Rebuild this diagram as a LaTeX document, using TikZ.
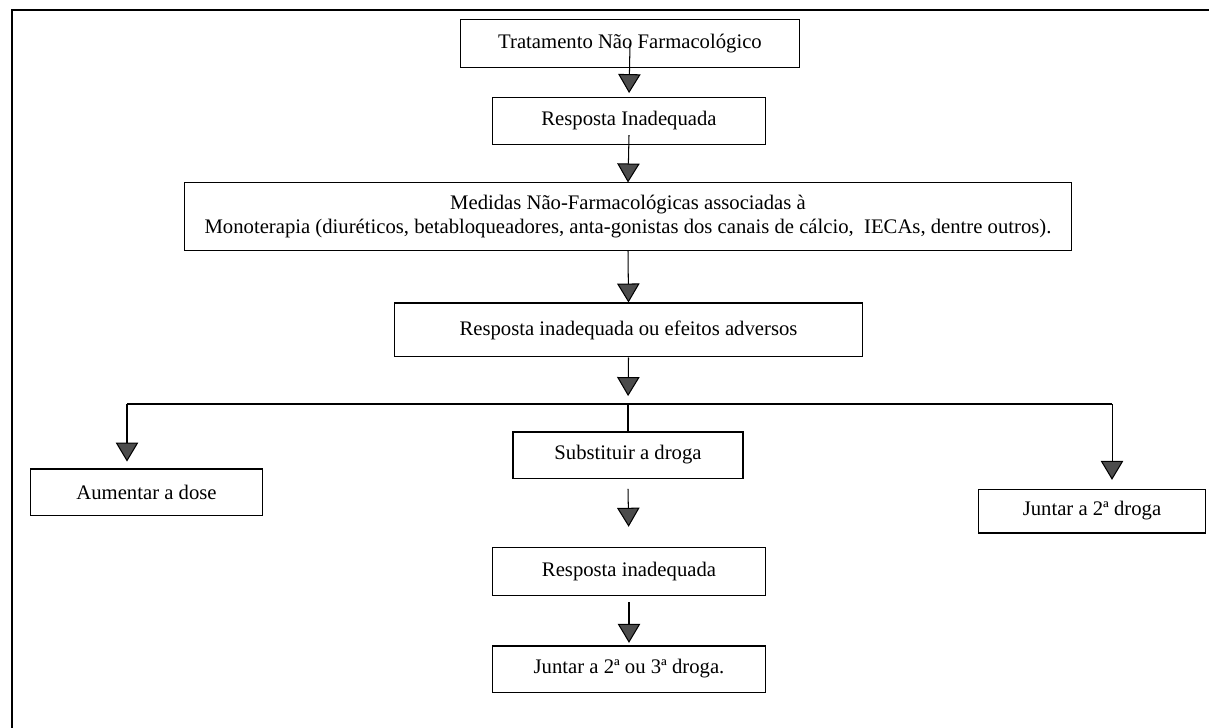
\documentclass[tikz,border=0pt]{standalone}
\usepackage{fontspec}
\setmainfont{Liberation Serif}
\usetikzlibrary{arrows.meta,positioning}

\begin{document}
\begin{tikzpicture}[
  x=0.58pt, y=-0.58pt,
  box/.style={draw, line width=0.6pt, align=center, inner sep=0pt, font=\fontsize{12}{13.8}\selectfont},
  arr/.style={-{Triangle[width=13pt,length=11pt,fill=black!70]}, line width=0.6pt},
  ln/.style={line width=0.6pt},
]
\useasboundingbox (0,0) rectangle (1209,728);
% frame (top and left only)
\draw[ln] (12,728) -- (12,10) -- (1209,10);

\node[box, minimum width=197pt, minimum height=27.3pt] (trat) at (630,43.5) {Tratamento Não Farmacológico};
\node[box, minimum width=157.8pt, minimum height=27.8pt] (resp1) at (629,121) {Resposta Inadequada};
\node[box, minimum width=514pt, minimum height=38.9pt] (med) at (628,216.5)
  {Medidas Não-Farmacológicas associadas à\\Monoterapia (diuréticos, betabloqueadores, anta-gonistas dos canais de cálcio, \ IECAs, dentre outros).};
\node[box, minimum width=271pt, minimum height=31.3pt] (resp2) at (628.5,330) {Resposta inadequada ou efeitos adversos};
\node[box, minimum width=135pt, minimum height=26.7pt] (aum) at (146.5,492) {Aumentar a dose};
\node[box, minimum width=133.4pt, minimum height=26.7pt] (subs) at (628,455) {Substituir a droga};
\node[box, minimum width=132pt, minimum height=25.5pt] (jun1) at (1092,511) {Juntar a 2ª droga};
\node[box, minimum width=157.8pt, minimum height=27.3pt] (resp3) at (629,571.5) {Resposta inadequada};
\node[box, minimum width=157.8pt, minimum height=26.7pt] (jun2) at (629,669) {Juntar a 2ª ou 3ª droga.};

% branch points
\coordinate (jn) at (628,404);
\coordinate (jl) at (127,404);
\coordinate (jr) at (1112,404);

\draw[arr, shorten >=2pt] (trat.center) -- (resp1.north);
\draw[arr] ([yshift=6pt]resp1.south) -- (med.north);
\draw[arr] (med.south) -- (resp2.north);
\draw[arr, shorten >=4.6pt] (resp2.south) -- (jn);
\draw[ln] (jl) -- (jr);
\draw[ln] (jn) -- (subs.north);
\draw[arr, shorten >=4pt] (jl) -- (aum.north -| jl);
\draw[arr, shorten >=5pt] (jr) -- (jun1.north -| jr);
\draw[arr, shorten >=12pt] ([yshift=-6pt]subs.south) -- (resp3.north);
\draw[arr, shorten >=1.5pt] ([yshift=-4pt]resp3.south) -- (jun2.north);
\end{tikzpicture}
\end{document}
